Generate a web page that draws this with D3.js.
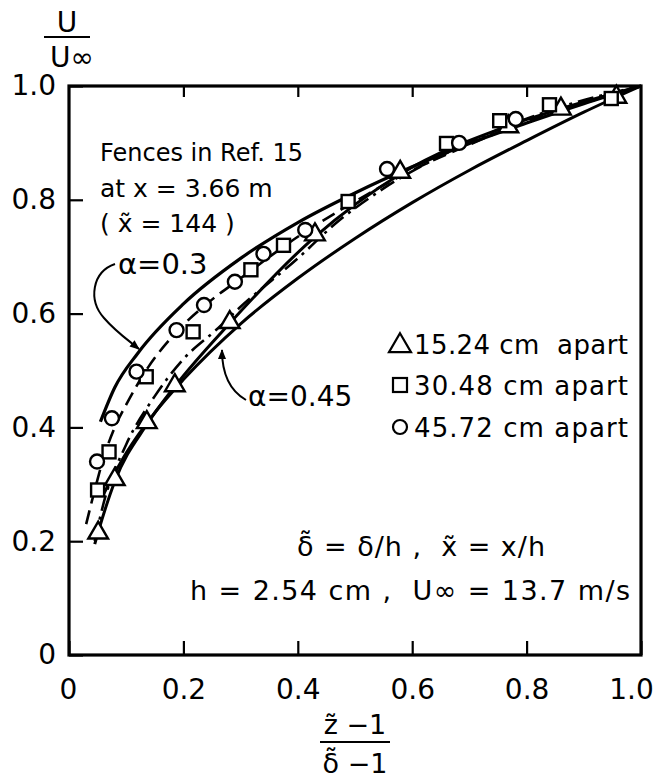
<!DOCTYPE html>
<html><head><meta charset="utf-8">
<script src="https://cdn.jsdelivr.net/npm/d3@7"></script>
<style>
body{margin:0;background:#fff;}
text{font-family:"DejaVu Sans",sans-serif;fill:#000;}
</style></head>
<body><svg id="c" width="657" height="779"></svg>
<script>
// ---- data ----
const xTicks = [0, 0.2, 0.4, 0.6, 0.8, 1.0];
const yTicks = [0, 0.2, 0.4, 0.6, 0.8, 1.0];
const tickLabels = ["0", "0.2", "0.4", "0.6", "0.8", "1.0"];

// 15.24 cm apart (triangles)
const tri = [[0.051,0.216],[0.08,0.31],[0.136,0.41],[0.185,0.475],[0.281,0.586],[0.43,0.74],[0.579,0.85],[0.768,0.93],[0.86,0.961],[0.957,0.982]];
// 30.48 cm apart (squares)
const sq = [[0.05,0.29],[0.07,0.357],[0.135,0.489],[0.217,0.568],[0.318,0.677],[0.375,0.72],[0.488,0.797],[0.66,0.899],[0.753,0.939],[0.84,0.967],[0.948,0.978]];
// 45.72 cm apart (circles)
const circ = [[0.049,0.34],[0.075,0.416],[0.118,0.498],[0.188,0.571],[0.236,0.615],[0.29,0.656],[0.34,0.705],[0.413,0.747],[0.556,0.854],[0.682,0.9],[0.781,0.942]];

// curves
const curveA = [[0.055,0.41],[0.08,0.47],[0.12,0.53],[0.2,0.617],[0.3,0.697],[0.4,0.76],[0.5,0.812],[0.6,0.858],[0.7,0.899],[0.8,0.935],[0.9,0.969],[1.0,1.0]]; // alpha=0.3 solid
const curveB = [[0.03,0.23],[0.045,0.29],[0.06,0.345],[0.08,0.40],[0.1,0.44],[0.138,0.505],[0.19,0.57],[0.247,0.622],[0.3,0.662],[0.4,0.735],[0.5,0.797],[0.6,0.852],[0.7,0.897],[0.8,0.938],[0.9,0.97],[1.0,1.0]]; // dashed
const curveC = [[0.045,0.20],[0.06,0.265],[0.1,0.37],[0.15,0.455],[0.2,0.52],[0.258,0.572],[0.3,0.612],[0.4,0.697],[0.468,0.76],[0.55,0.82],[0.65,0.877],[0.75,0.923],[0.85,0.96],[1.0,1.0]]; // dash-dot
const curveE = [[0.045,0.195],[0.051,0.216],[0.08,0.305],[0.136,0.405],[0.185,0.472],[0.281,0.583],[0.43,0.735],[0.579,0.845],[0.768,0.93],[0.86,0.96],[1.0,1.0]]; // solid through triangles
const curveD = [[0.06,0.282],[0.1,0.355],[0.15,0.426],[0.2,0.484],[0.3,0.582],[0.4,0.662],[0.5,0.732],[0.6,0.795],[0.7,0.852],[0.8,0.904],[0.9,0.954],[1.0,1.0]]; // alpha=0.45 solid

// ---- drawing ----
const svg = d3.select("#c");
const x = d3.scaleLinear().domain([0,1]).range([69,641]);
const y = d3.scaleLinear().domain([0,1]).range([655,86]);
const fmt = v => tickLabels[xTicks.indexOf(v)];

// axes
const gL = svg.append("g").attr("transform",`translate(${x(0)},0)`)
  .call(d3.axisLeft(y).tickValues(yTicks).tickSize(-14).tickPadding(13).tickFormat(fmt));
const gB = svg.append("g").attr("transform",`translate(0,${y(0)})`)
  .call(d3.axisBottom(x).tickValues(xTicks).tickSize(-14).tickPadding(24).tickFormat(fmt));
const gT = svg.append("g").attr("transform",`translate(0,${y(1)})`)
  .call(d3.axisTop(x).tickValues(xTicks.slice(1,-1)).tickSize(-11).tickFormat(""));
[gL,gB,gT].forEach(g=>{
  g.select(".domain").remove();
  g.selectAll(".tick line").attr("stroke","#000").attr("stroke-width",2.2);
  g.selectAll(".tick text").style("font-size","28px").attr("fill","#000");
});
gB.selectAll(".tick text").filter(d=>d===1).attr("dx","-10");
gB.selectAll(".tick text").filter(d=>d===0).attr("dx","-1");
// frame
svg.append("rect").attr("x",x(0)).attr("y",y(1)).attr("width",x(1)-x(0)).attr("height",y(0)-y(1))
  .attr("fill","none").attr("stroke","#000").attr("stroke-width",3.2);

// curves
const line = d3.line().x(d=>x(d[0])).y(d=>y(d[1])).curve(d3.curveMonotoneX);
const curves = [
  {d:curveD, w:3, dash:null},
  {d:curveE, w:3, dash:null},
  {d:curveC, w:2.6, dash:"16,6,3,6"},
  {d:curveB, w:2.6, dash:"14,7"},
  {d:curveA, w:3.2, dash:null}
];
curves.forEach(c=>{
  svg.append("path").attr("d",line(c.d)).attr("fill","none").attr("stroke","#000")
    .attr("stroke-width",c.w).attr("stroke-dasharray",c.dash);
});

// markers
const mk = svg.append("g").attr("fill","#fff").attr("stroke","#000").attr("stroke-width",2.4);
const triPath = s => `M0,${-s*0.62}L${s*0.58},${s*0.38}L${-s*0.58},${s*0.38}Z`;
mk.selectAll(".t").data(tri).join("path").attr("d",triPath(17)).attr("transform",d=>`translate(${x(d[0])},${y(d[1])})`);
mk.selectAll(".s").data(sq).join("rect").attr("width",13).attr("height",13)
  .attr("x",d=>x(d[0])-6.5).attr("y",d=>y(d[1])-6.5);
mk.selectAll(".c").data(circ).join("circle").attr("r",7).attr("cx",d=>x(d[0])).attr("cy",d=>y(d[1]));

// legend
const leg = [["15.24 cm  apart","t",354],["30.48 cm apart","s",395],["45.72 cm apart","c",437]];
leg.forEach(l=>{
  const cy = l[2]-10, cx = 400;
  if(l[1]==="t") svg.append("path").attr("d",triPath(19)).attr("transform",`translate(${cx},${cy+1})`).attr("fill","#fff").attr("stroke","#000").attr("stroke-width",2.2);
  if(l[1]==="s") svg.append("rect").attr("x",cx-7).attr("y",cy-7).attr("width",14).attr("height",14).attr("fill","#fff").attr("stroke","#000").attr("stroke-width",2.2);
  if(l[1]==="c") svg.append("circle").attr("cx",cx).attr("cy",cy).attr("r",7).attr("fill","#fff").attr("stroke","#000").attr("stroke-width",2.2);
  svg.append("text").attr("x",414).attr("y",l[2]).style("font-size","26px").attr("textLength",214).attr("xml:space","preserve").text(l[0]);
});

// annotations
const txt = (s,xx,yy,sz,anchor)=>svg.append("text").attr("x",xx).attr("y",yy).style("font-size",sz+"px")
  .attr("text-anchor",anchor||"start").attr("xml:space","preserve").text(s);
txt("Fences in Ref. 15",100,161,24);
txt("at x = 3.66 m",100,197,25);
txt("( x\u0303 = 144 )",100,232,25);
txt("\u03b1=0.3",118,274,29);
txt("\u03b1=0.45",248,406,28);
txt("\u03b4\u0303 = \u03b4/h ,  x\u0303 = x/h",297,556,27).attr("textLength",248);
txt("h = 2.54 cm ,  U\u221e = 13.7 m/s",190,600,27).attr("textLength",440);

// arrows
svg.append("defs").append("marker").attr("id","ah").attr("viewBox","0 0 10 10").attr("refX",9).attr("refY",5)
  .attr("markerWidth",5).attr("markerHeight",5).attr("orient","auto")
  .append("path").attr("d","M0,1L10,5L0,9Z").attr("fill","#000");
svg.append("path").attr("d","M115,264 C92,272 88,300 104,318 C116,332 128,340 139,349")
  .attr("fill","none").attr("stroke","#000").attr("stroke-width",2).attr("marker-end","url(#ah)");
svg.append("path").attr("d","M246,400 C232,392 222,378 222,350")
  .attr("fill","none").attr("stroke","#000").attr("stroke-width",2).attr("marker-end","url(#ah)");

// axis titles
txt("U",67,32,28,"middle");
svg.append("line").attr("x1",44).attr("x2",90).attr("y1",37).attr("y2",37).attr("stroke","#000").attr("stroke-width",2);
txt("U\u221e",72,67,28,"middle");
txt("z\u0303 \u22121",355,734,27,"middle");
svg.append("line").attr("x1",320).attr("x2",390).attr("y1",742).attr("y2",742).attr("stroke","#000").attr("stroke-width",2);
txt("\u03b4\u0303 \u22121",355,773,27,"middle");
</script></body></html>
